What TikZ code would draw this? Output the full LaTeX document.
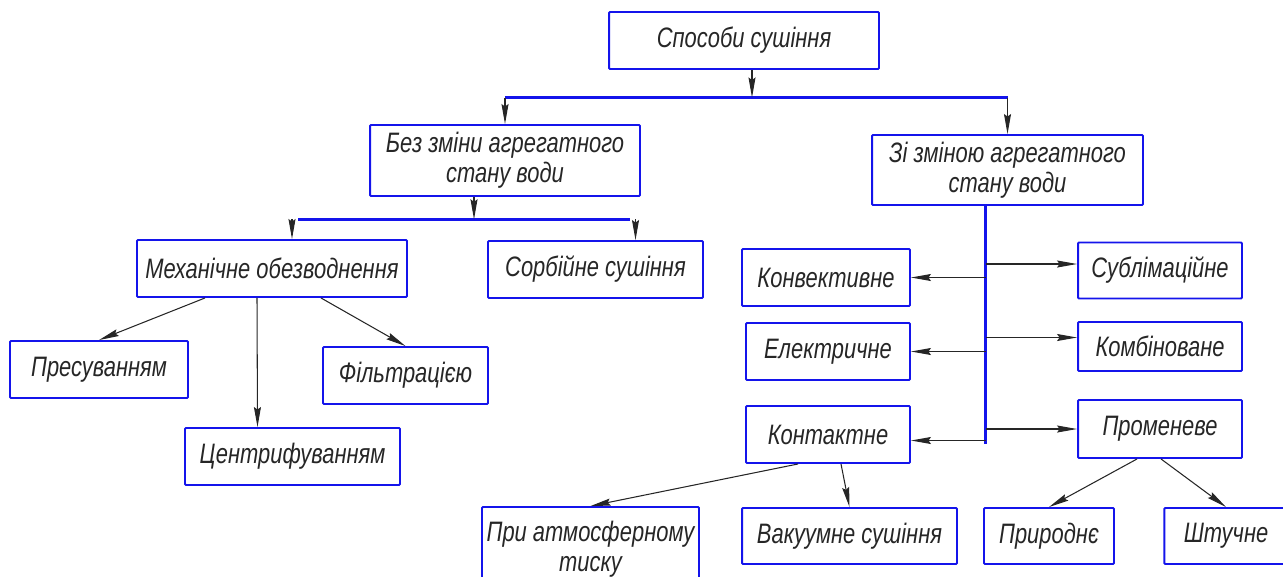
\documentclass[tikz,border=0pt]{standalone}
\usepackage{fontspec}
\usepackage{xcolor}
\usepackage{tikz}
\usetikzlibrary{arrows.meta,calc}
\newfontfamily\gostfont[FakeStretch=0.78]{Liberation Sans}
\definecolor{gostblue}{RGB}{20,20,235}

\begin{document}
\begin{tikzpicture}[x=0.02cm, y=-0.02cm,
    >={Stealth[length=0.4cm,width=0.14cm,inset=0.05cm]},
    box/.style={draw=gostblue, line width=1.1pt, rounded corners=0.6pt,
                inner sep=0pt, align=center, text=black!85,
                font=\gostfont\itshape\fontsize{16}{17}\selectfont},
    bluebar/.style={draw=gostblue, line width=1.5pt},
    link/.style={->, draw=black!85, line width=0.6pt}]
        \useasboundingbox (0,0) rectangle (1283,576);
        \clip (0,0) rectangle (1283,576);

        % Root
        \node[box, minimum width=5.4cm, minimum height=1.14cm] (root) at (744,40.5) {Способи сушіння};
        % First level
        \node[box, minimum width=5.4cm, minimum height=1.42cm] (bez) at (505,160.5) {Без зміни агрегатного\\стану води};
        \node[box, minimum width=5.42cm, minimum height=1.4cm] (zi) at (1007.5,170) {Зі зміною агрегатного\\стану води};

        % Without change of state
        \node[box, minimum width=5.4cm, minimum height=1.14cm] (mech) at (272,268.5) {Механічне обезводнення};
        \node[box, minimum width=4.3cm, minimum height=1.14cm] (sorb) at (595.5,269.5) {Сорбійне сушіння};
        \node[box, minimum width=3.56cm, minimum height=1.14cm] (pres) at (99,369.5) {Пресуванням};
        \node[box, minimum width=4.3cm, minimum height=1.14cm] (centr) at (292.5,456.5) {Центрифуванням};
        \node[box, minimum width=3.3cm, minimum height=1.14cm] (filt) at (405.5,375.5) {Фільтрацією};

        % With change of state
        \node[box, minimum width=3.36cm, minimum height=1.14cm] (konv) at (826,277.5) {Конвективне};
        \node[box, minimum width=3.28cm, minimum height=1.14cm] (elek) at (828,351.5) {Електричне};
        \node[box, minimum width=3.28cm, minimum height=1.14cm] (kont) at (828,434.5) {Контактне};
        \node[box, minimum width=3.28cm, minimum height=1.12cm] (subl) at (1160,270.5) {Сублімаційне};
        \node[box, minimum width=3.28cm, minimum height=0.98cm] (komb) at (1160,346.5) {Комбіноване};
        \node[box, minimum width=3.28cm, minimum height=1.16cm] (prom) at (1160,429) {Променеве};

        % Bottom row
        \node[box, minimum width=4.34cm, minimum height=1.68cm] (atm) at (590.5,549) {При атмосферному\\тиску};
        \node[box, minimum width=4.3cm, minimum height=1.12cm] (vac) at (849.5,536) {Вакуумне сушіння};
        \node[box, minimum width=2.6cm, minimum height=1.12cm] (prir) at (1049,536) {Природнє};
        \node[box, minimum width=2.47cm, minimum height=1.12cm] (shtuch) at (1226,536) {Штучне};

        % Bars
        \coordinate (bar1) at (0,97.5);
        \coordinate (bar2l) at (298,219.3);
        \coordinate (bar2r) at (630,219.3);
        \coordinate (spine) at ($(zi.south)+(-22,0)$);
        \coordinate (spineend) at (0,444);
        \draw[bluebar] (bez.north |- bar1) -- (zi.north |- bar1);
        \draw[bluebar] (bar2l) -- (bar2r);
        \draw[bluebar] (spine) -- (spine |- spineend);

        % Arrows, top part
        \coordinate (rootout) at ($(root.south)+(8,0)$);
        \coordinate (bezout) at ($(bez.south)+(-31,0)$);
        \coordinate (mechin) at ($(mech.north)+(20,0)$);
        \coordinate (sorbin) at ($(sorb.north)+(40,0)$);
        \draw[link] (rootout) -- (rootout |- bar1);
        \draw[link] (bez.north |- bar1) -- (bez.north);
        \draw[link] (zi.north |- bar1) -- (zi.north);
        \draw[link] (bezout) -- (bezout |- bar2l);
        \draw[link] (mechin |- bar2l) -- (mechin);
        \draw[link] (sorbin |- bar2l) -- (sorbin);

        % Arrows, mechanical
        \coordinate (mechl) at ($(mech.south)+(-67,0)$);
        \coordinate (mechm) at ($(mech.south)+(-15,0)$);
        \coordinate (mechr) at ($(mech.south)+(49,0)$);
        \coordinate (centrin) at ($(centr.north)+(-35,0)$);
        \draw[link] (mechl) -- (pres.north);
        \draw[link] (mechm) -- (centrin);
        \draw[link] (mechr) -- (filt.north);

        % Arrows from spine
        \coordinate (kontin) at ($(kont.east)+(0,6)$);
        \coordinate (sublin) at ($(subl.west)+(0,-6.5)$);
        \coordinate (kombin) at ($(komb.west)+(0,-9)$);
        \draw[link] (konv.east -| spine) -- (konv.east);
        \draw[link] (elek.east -| spine) -- (elek.east);
        \draw[link] (kontin -| spine) -- (kontin);
        \draw[link] (sublin -| spine) -- (sublin);
        \draw[link] (kombin -| spine) -- (kombin);
        \draw[link] (prom.west -| spine) -- (prom.west);

        % Arrows, bottom row
        \coordinate (kontl) at ($(kont.south)+(-30,0)$);
        \coordinate (kontr) at ($(kont.south)+(13,0)$);
        \coordinate (proml) at ($(prom.south)+(-23,0)$);
        \coordinate (promr) at ($(prom.south)+(1,0)$);
        \draw[link] (kontl) -- (atm.north);
        \draw[link] (kontr) -- (vac.north);
        \draw[link] (proml) -- (prir.north);
        \draw[link] (promr) -- (shtuch.north);
    \end{tikzpicture}
\end{document}
